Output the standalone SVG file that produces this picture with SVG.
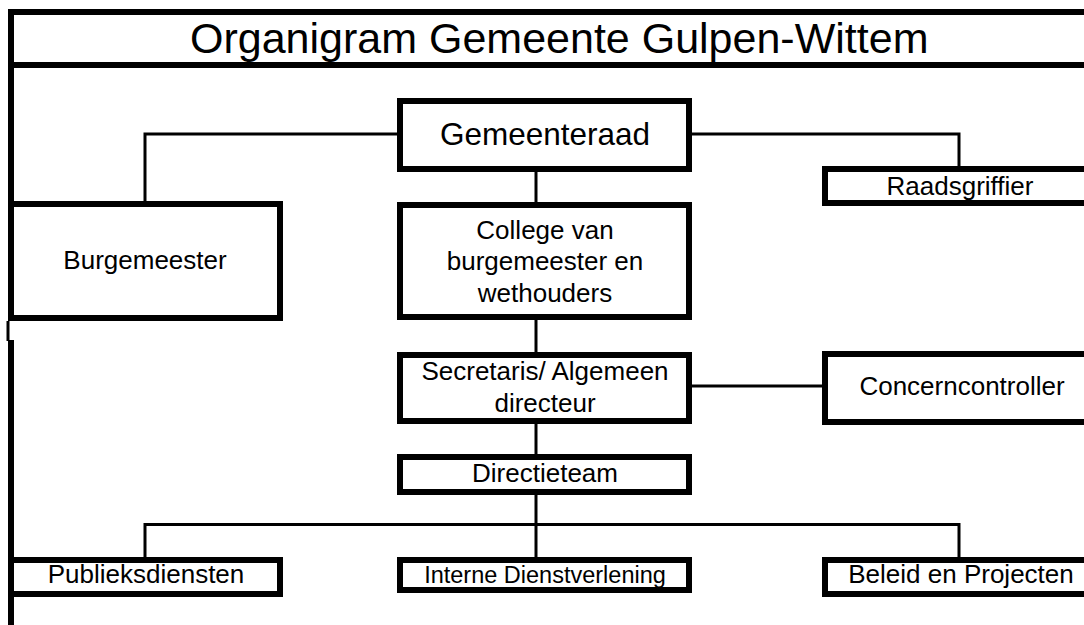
<svg xmlns="http://www.w3.org/2000/svg" width="1084" height="625" viewBox="0 0 1084 625">
<style>
.box{fill:#fff;stroke:#000;stroke-width:6}
.frame{fill:none;stroke:#000;stroke-width:6}
.con{fill:none;stroke:#000;stroke-width:3}
text{font-family:"Liberation Sans",Arial,sans-serif;fill:#000;text-anchor:middle}
.t{font-size:26px}
</style>
<rect width="1084" height="625" fill="#fff"/>
<g id="frame">
<path class="frame" d="M11,9 V321"/>
<path class="frame" d="M8,12 H1090 M8,65 H1090"/>
<path class="con" d="M8,321 V341"/>
<path class="frame" d="M11,340 V625"/>
<text x="190" y="53" style="font-size:43px;text-anchor:start">Organigram Gemeente Gulpen-Wittem</text>
</g>
<g id="connectors">
<path class="con" d="M400,134 H145 V204"/>
<path class="con" d="M689,134 H959 V169"/>
<path class="con" d="M536,169 V205"/>
<path class="con" d="M536,317 V355"/>
<path class="con" d="M689,386 H825"/>
<path class="con" d="M536,421 V457"/>
<path class="con" d="M536,492 V560"/>
<path class="con" d="M145,560 V524.5 H959 V560"/>
</g>
<g id="gemeenteraad">
<rect class="box" x="400" y="101" width="289" height="68"/>
<text x="545" y="145" style="font-size:31.5px">Gemeenteraad</text>
</g>
<g id="burgemeester">
<rect class="box" x="11" y="204" width="269" height="114"/>
<text class="t" x="145" y="269">Burgemeester</text>
</g>
<g id="raadsgriffier">
<rect class="box" x="825" y="169" width="280" height="34"/>
<text class="t" x="960" y="195">Raadsgriffier</text>
</g>
<g id="college">
<rect class="box" x="400" y="205" width="289" height="112"/>
<text class="t" x="545" y="239">College van</text>
<text class="t" x="545" y="270">burgemeester en</text>
<text class="t" x="545" y="302">wethouders</text>
</g>
<g id="secretaris">
<rect class="box" x="400" y="355" width="289" height="66"/>
<text class="t" x="545" y="380">Secretaris/ Algemeen</text>
<text class="t" x="545" y="412">directeur</text>
</g>
<g id="concerncontroller">
<rect class="box" x="825" y="354" width="280" height="68"/>
<text class="t" x="962" y="395">Concerncontroller</text>
</g>
<g id="directieteam">
<rect class="box" x="400" y="457" width="289" height="35"/>
<text class="t" x="545" y="482">Directieteam</text>
</g>
<g id="publieksdiensten">
<rect class="box" x="11" y="560" width="269" height="34"/>
<text class="t" x="146" y="583">Publieksdiensten</text>
</g>
<g id="interne-dienstverlening">
<rect class="box" x="400" y="560" width="289" height="30"/>
<text x="545" y="583" style="font-size:23.5px">Interne Dienstverlening</text>
</g>
<g id="beleid-en-projecten">
<rect class="box" x="825" y="560" width="280" height="34"/>
<text class="t" x="961" y="583">Beleid en Projecten</text>
</g>
</svg>
